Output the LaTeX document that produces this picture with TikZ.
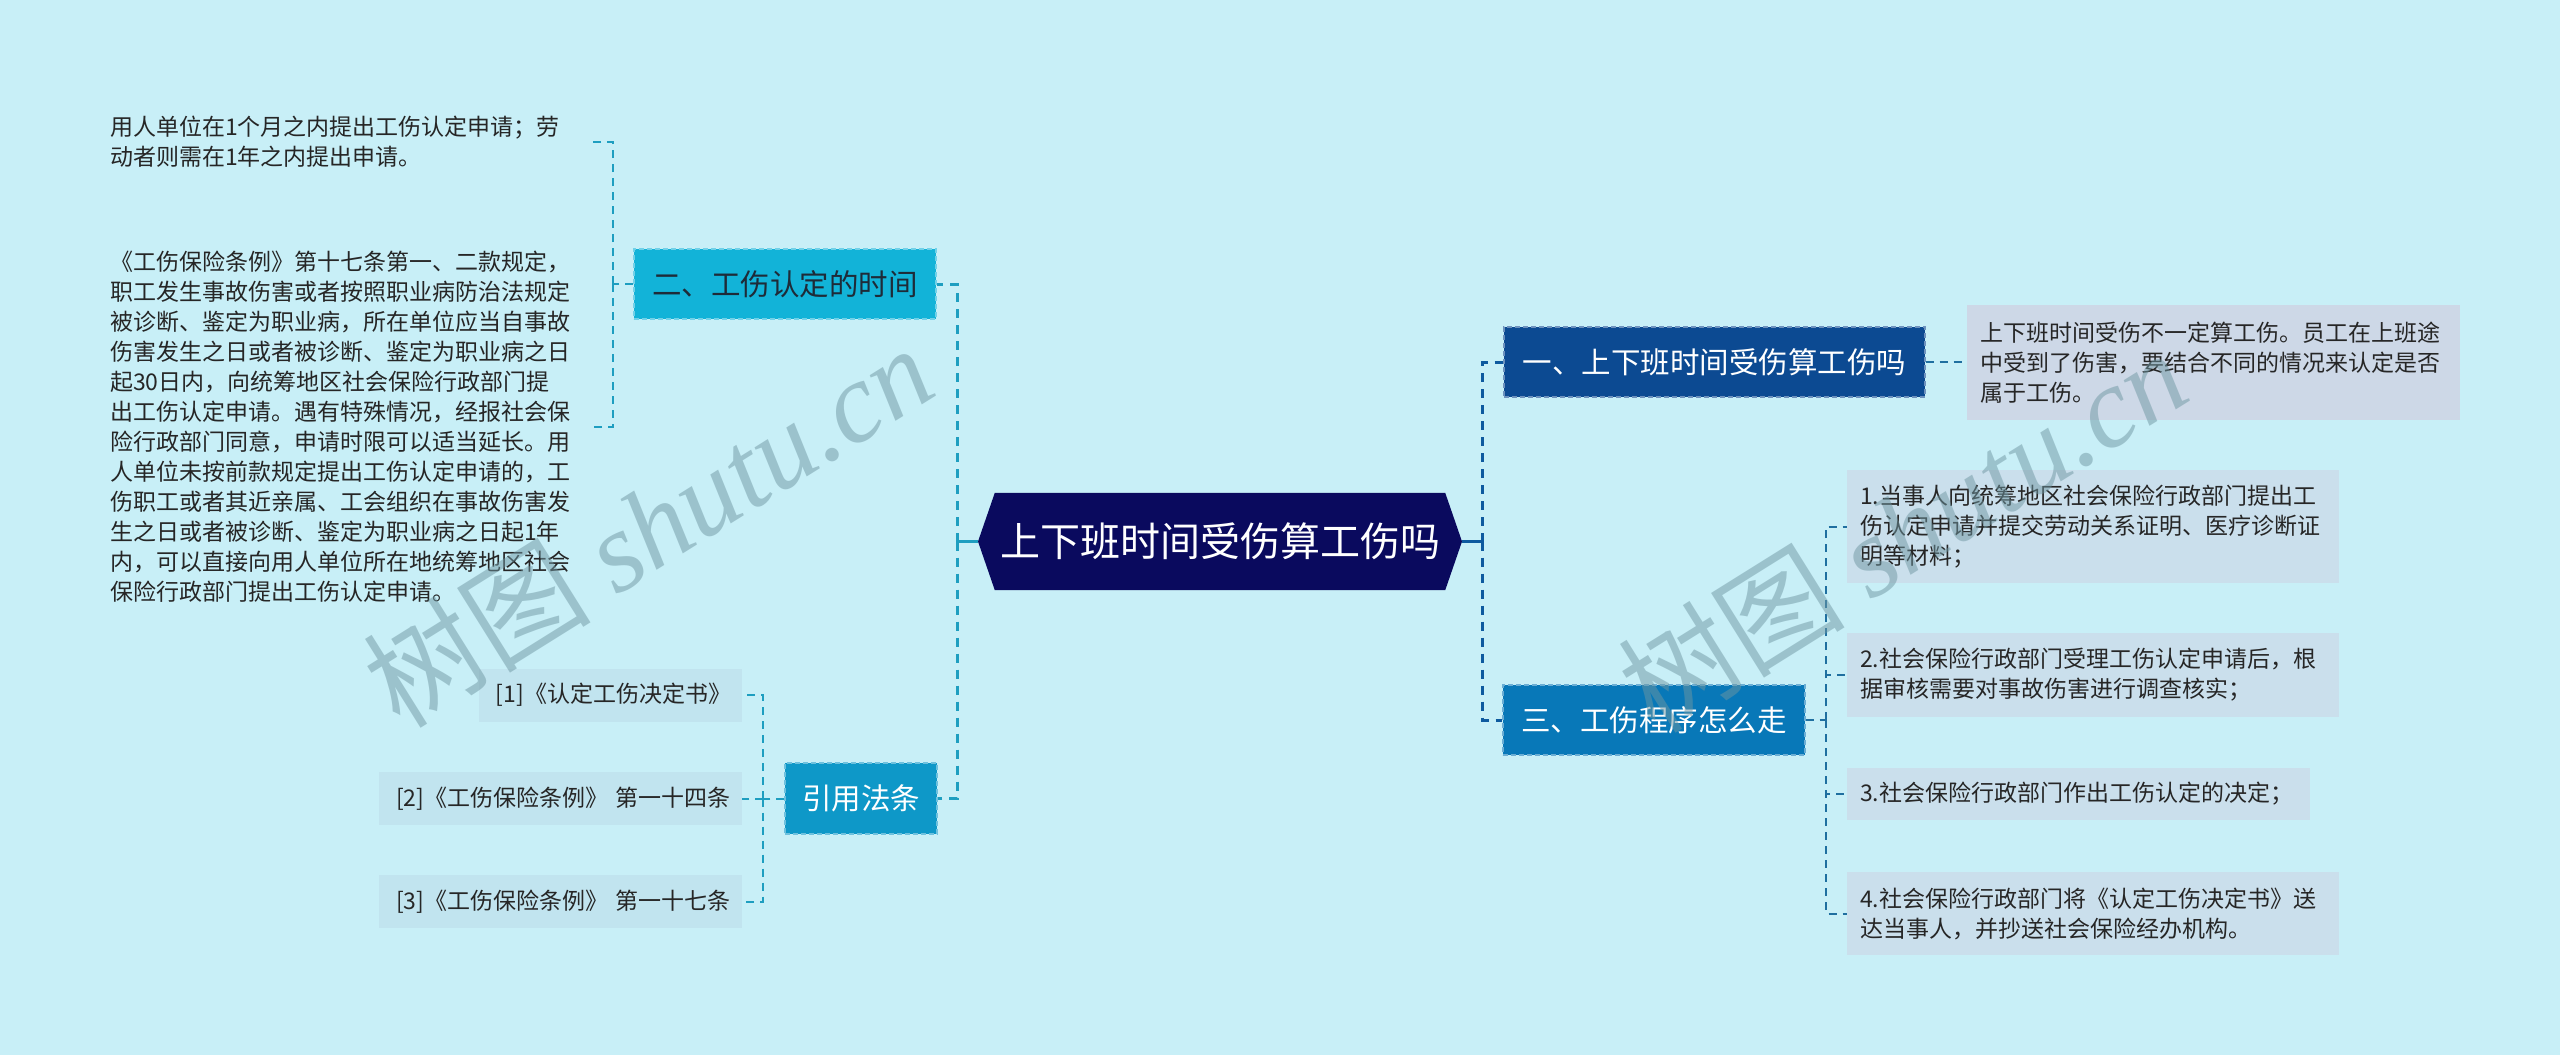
\documentclass[tikz,border=0pt]{standalone}
\usepackage{fontspec}
\setmainfont{Noto Sans CJK SC}
\newfontfamily\wmserif{Liberation Serif}
\usetikzlibrary{calc,backgrounds}
\definecolor{bgc}{HTML}{C8EFF7}
\definecolor{rootc}{HTML}{0A0A5E}
\definecolor{onec}{HTML}{0C4A92}
\definecolor{threec}{HTML}{0878B8}
\definecolor{twoc}{HTML}{12B3D8}
\definecolor{twotext}{HTML}{1E2B38}
\definecolor{refc}{HTML}{0E98C8}
\definecolor{detc}{HTML}{CDD8E7}
\definecolor{itemc}{HTML}{CADFEC}
\definecolor{refleafc}{HTML}{C1E4EF}
\definecolor{leaftext}{HTML}{262626}
\definecolor{lline}{HTML}{1E9EC0}
\definecolor{rline}{HTML}{0E5A9F}
\definecolor{rsub}{HTML}{1F6FA0}
\definecolor{wmc}{HTML}{6F97A2}
\begin{document}
\begin{tikzpicture}[x=1pt,y=-1pt,
  branch/.style={rectangle, minimum height=70, inner sep=0, font=\fontsize{29.5}{34}\selectfont, dashed, line width=1.2, dash pattern=on 5 off 3},
  leaf/.style={rectangle, inner xsep=13, inner ysep=0, align=left, font=\fontsize{23}{30}\selectfont, text=leaftext},
  refleaf/.style={rectangle, fill=refleafc, inner xsep=11, inner ysep=0, align=right, minimum height=53, font=\fontsize{23}{30}\selectfont, text=leaftext},
  ldash/.style={draw=lline, line width=3, dash pattern=on 9 off 7},
  lsub/.style={draw=lline, line width=2, dash pattern=on 8 off 6},
  rdash/.style={draw=rline, line width=3, dash pattern=on 9 off 7},
  rsubl/.style={draw=rsub, line width=2, dash pattern=on 8 off 6},
  solidl/.style={draw=#1, line width=3},
  wm/.style={text=wmc, opacity=0.5, rotate=32}
]
\useasboundingbox (0,0) rectangle (2560,1055);

% root
\node[text=white, font=\fontsize{40}{44}\selectfont, minimum width=450, minimum height=97, inner sep=0] (root) at (1220,541.5) {上下班时间受伤算工伤吗};
\coordinate (rootW) at (978,541.5);
\coordinate (rootE) at (1462,541.5);

\begin{scope}[on background layer]
\fill[bgc] (0,0) rectangle (2560,1055);
\fill[rootc] (root.north west) -- (root.north east) -- (rootE) -- (root.south east) -- (root.south west) -- (rootW) -- cycle;
\end{scope}

% branches
\node[branch, fill=onec, draw=onec!60!white, text=white, minimum width=421] (b1) at (1714.5,362) {一、上下班时间受伤算工伤吗};
\node[branch, fill=threec, draw=threec!60!white, text=white, minimum width=302] (b3) at (1654,720) {三、工伤程序怎么走};
\node[branch, fill=twoc, draw=twoc!60!white, text=twotext, minimum width=302] (b2) at (785,284) {二、工伤认定的时间};
\node[branch, fill=refc, draw=refc!60!white, text=white, minimum width=152, minimum height=71] (b4) at (861,798.5) {引用法条};

% right leaves
\node[leaf, fill=detc, text width=467, minimum height=115] (d1) at (2213.5,362.5) {上下班时间受伤不一定算工伤。员工在上班途\\中受到了伤害，要结合不同的情况来认定是否\\属于工伤。};
\node[leaf, fill=itemc, text width=466, minimum height=113] (i1) at (2093,526.5) {1.当事人向统筹地区社会保险行政部门提出工\\伤认定申请并提交劳动关系证明、医疗诊断证\\明等材料；};
\node[leaf, fill=itemc, text width=466, minimum height=84] (i2) at (2093,675) {2.社会保险行政部门受理工伤认定申请后，根\\据审核需要对事故伤害进行调查核实；};
\node[leaf, fill=itemc, text width=437, minimum height=52] (i3) at (2078.5,794) {3.社会保险行政部门作出工伤认定的决定；};
\node[leaf, fill=itemc, text width=466, minimum height=83] (i4) at (2093,913.5) {4.社会保险行政部门将《认定工伤决定书》送\\达当事人，并抄送社会保险经办机构。};

% left leaves
\node[leaf, inner xsep=8, text width=470] (tA) at (345,142) {用人单位在1个月之内提出工伤认定申请；劳\\动者则需在1年之内提出申请。};
\node[leaf, inner xsep=8, text width=470] (tB) at (345,427) {《工伤保险条例》第十七条第一、二款规定，\\职工发生事故伤害或者按照职业病防治法规定\\被诊断、鉴定为职业病，所在单位应当自事故\\伤害发生之日或者被诊断、鉴定为职业病之日\\起30日内，向统筹地区社会保险行政部门提\\出工伤认定申请。遇有特殊情况，经报社会保\\险行政部门同意，申请时限可以适当延长。用\\人单位未按前款规定提出工伤认定申请的，工\\伤职工或者其近亲属、工会组织在事故伤害发\\生之日或者被诊断、鉴定为职业病之日起1年\\内，可以直接向用人单位所在地统筹地区社会\\保险行政部门提出工伤认定申请。};

\node[refleaf, text width=241] (r1) at (610.5,695) {[1]《认定工伤决定书》};
\node[refleaf, text width=341] (r2) at (560.5,798.5) {[2]《工伤保险条例》 第一十四条};
\node[refleaf, text width=341] (r3) at (560.5,901.5) {[3]《工伤保险条例》 第一十七条};

% junction coordinates
\coordinate (jL) at (957,541.5);
\coordinate (jR) at (1482,541.5);
\coordinate (j2) at (613,284);
\coordinate (j4) at (763,798.5);
\coordinate (j3) at (1826,720);

% connectors
\draw[solidl=lline] (rootW) -- (jL);
\draw[ldash] (jL) |- (b2.east);
\draw[ldash] (jL) |- (b4.east);
\draw[solidl=rline] (rootE) -- (jR);
\draw[rdash] (jR) |- (b1.west);
\draw[rdash] (jR) |- (b3.west);

\draw[lsub] (b2.west) -- (j2);
\draw[lsub] (j2) |- (tA.east);
\draw[lsub] (j2) |- (tB.east);

\draw[lsub] (b4.west) -- (j4);
\draw[lsub] (j4) |- (r1.east);
\draw[lsub] (j4) |- (r2.east);
\draw[lsub] (j4) |- (r3.east);

\draw[rsubl] (b1.east) -- (d1.west |- b1.east);

\draw[rsubl] (b3.east) -- (j3);
\draw[rsubl] (j3) |- (i1.west);
\draw[rsubl] (j3) |- (i2.west);
\draw[rsubl] (j3) |- (i3.west);
\draw[rsubl] (j3) |- (i4.west);

% watermarks
\node[wm, font=\fontsize{114}{120}\selectfont] (wm1) at (648,525) {树图 {\wmserif\itshape shutu.cn}};
\node[wm, font=\fontsize{114}{120}\selectfont] (wm2) at (1902,530) {树图 {\wmserif\itshape shutu.cn}};
\end{tikzpicture}
\end{document}
